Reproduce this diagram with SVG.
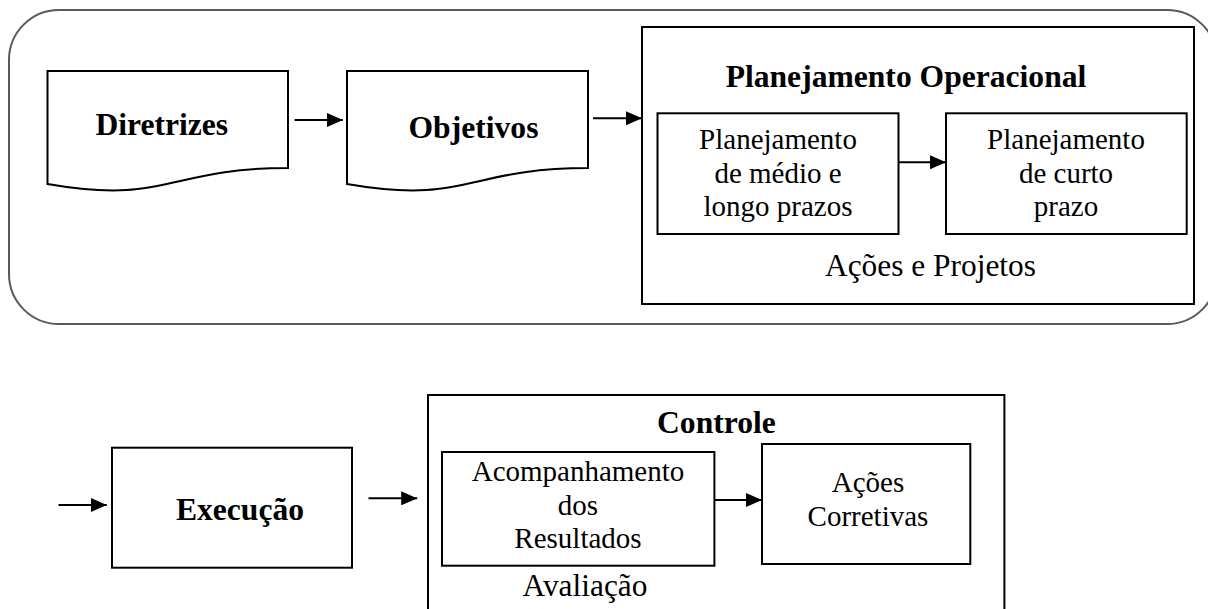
<svg xmlns="http://www.w3.org/2000/svg" width="1208" height="609" viewBox="0 0 1208 609">
<defs>
<marker id="ah" markerUnits="userSpaceOnUse" markerWidth="16" markerHeight="14" refX="16" refY="7" orient="auto">
<path d="M0,0 L16,7 L0,14 Z" fill="#000"/>
</marker>
<style>
.box{fill:#fff;stroke:#000;stroke-width:2}
.outer{fill:none;stroke:#595959;stroke-width:2}
text{font-family:"Liberation Serif","Times New Roman",serif;fill:#000;text-anchor:middle}
.b{font-weight:bold;font-size:31.6px}
.r{font-size:29px}
.rl{font-size:31.4px}
.c line{stroke:#000;stroke-width:2;marker-end:url(#ah)}
</style>
</defs>
<rect width="1208" height="609" fill="#fff"/>
<rect id="planning-frame" class="outer" x="9" y="10" width="1208" height="314" rx="50" ry="50"/>
<g id="diretrizes">
<path class="box" d="M47.5,71 H288 V168 C167.7,168 167.7,205 47.5,184 Z"/>
<text class="b" x="161.8" y="135">Diretrizes</text>
</g>
<g id="objetivos">
<path class="box" d="M347,71 H588 V168 C467.5,168 467.5,205 347,184 Z"/>
<text class="b" x="473.5" y="137.7">Objetivos</text>
</g>
<g id="planejamento-operacional">
<rect class="box" x="642" y="27" width="552" height="277"/>
<text class="b" x="906" y="87.3">Planejamento Operacional</text>
<text class="rl" x="930.5" y="275.7">Ações e Projetos</text>
</g>
<g id="medio-longo">
<rect class="box" x="657.5" y="113.3" width="241" height="120.7"/>
<text class="r" x="778" y="149">Planejamento</text>
<text class="r" x="778" y="182.7">de médio e</text>
<text class="r" x="778" y="216.4">longo prazos</text>
</g>
<g id="curto-prazo">
<rect class="box" x="946" y="113.3" width="240.7" height="120.7"/>
<text class="r" x="1066" y="149">Planejamento</text>
<text class="r" x="1066" y="182.7">de curto</text>
<text class="r" x="1066" y="216.4">prazo</text>
</g>
<g id="execucao">
<rect class="box" x="112" y="447.7" width="240" height="120"/>
<text class="b" x="240" y="520">Execução</text>
</g>
<g id="controle">
<rect class="box" x="428" y="395" width="576.4" height="230"/>
<text class="b" x="716.4" y="433.3">Controle</text>
<text class="rl" x="585" y="596">Avaliação</text>
</g>
<g id="acompanhamento">
<rect class="box" x="442" y="452" width="272.4" height="113.7"/>
<text class="r" x="578" y="481">Acompanhamento</text>
<text class="r" x="578" y="514.7">dos</text>
<text class="r" x="578" y="548.3">Resultados</text>
</g>
<g id="acoes-corretivas">
<rect class="box" x="762" y="444" width="208.3" height="120"/>
<text class="r" x="868" y="491.7">Ações</text>
<text class="r" x="868" y="525.7">Corretivas</text>
</g>
<g id="connectors" class="c">
<line x1="294.6" y1="120" x2="343" y2="120"/>
<line x1="593" y1="118.3" x2="642" y2="118.3"/>
<line x1="898.6" y1="162.3" x2="946" y2="162.3"/>
<line x1="58.5" y1="505" x2="106.8" y2="505"/>
<line x1="368.5" y1="498.3" x2="417.2" y2="498.3"/>
<line x1="714.4" y1="500" x2="762" y2="500"/>
</g>
</svg>
